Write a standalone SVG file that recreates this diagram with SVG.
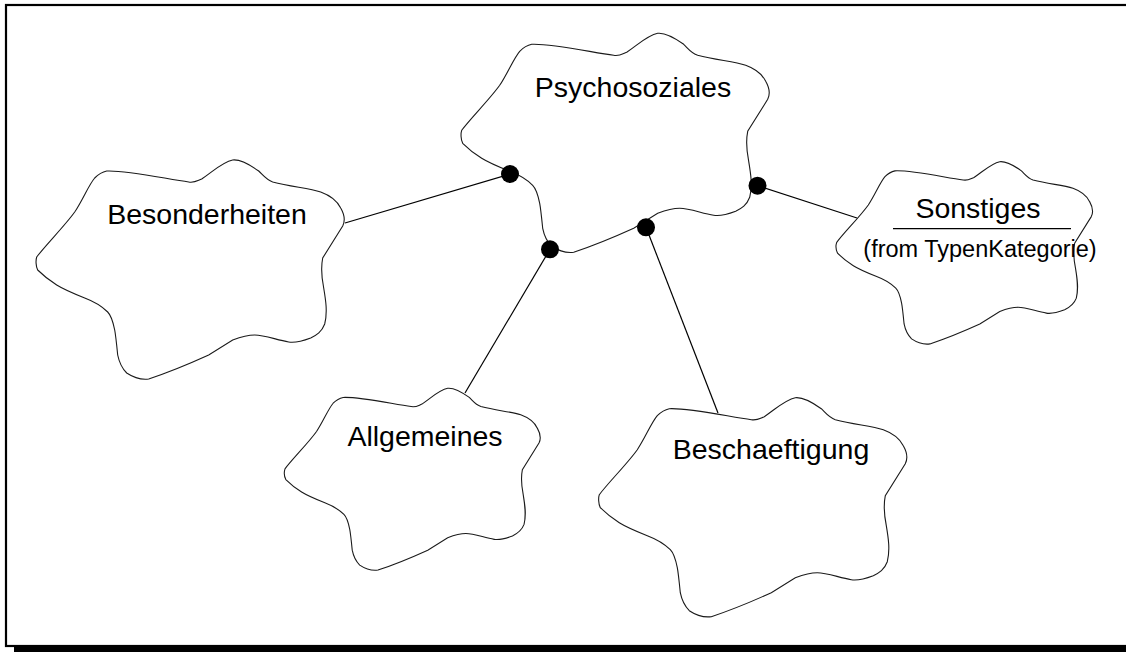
<svg xmlns="http://www.w3.org/2000/svg" xmlns:xlink="http://www.w3.org/1999/xlink" width="1126" height="652" viewBox="0 0 1126 652">
  <style>
    .cloud { fill: #ffffff; stroke: #1a1a1a; }
    .label { font-family: "Liberation Sans", Arial, sans-serif; font-size: 28.5px; fill: #000000; text-anchor: middle; }
    .sub { font-family: "Liberation Sans", Arial, sans-serif; font-size: 23.5px; fill: #000000; text-anchor: middle; }
    .link { stroke: #000000; stroke-width: 1.2; fill: none; }
    .dot { fill: #000000; }
  </style>
  <defs>
    <!-- category cloud outline, 308 x 219 local units -->
    <path id="cloudShape" class="cloud" d="M0,97 C8,86 28,66 38,52 C46,40 52,25 58,18 C62,14 65,12 70,11 C90,10 130,19 152,22 C158,23 160,21 165,19 C178,10 186,2 196,0 C205,-1 215,6 222,11 C228,17 230,20 236,22 C255,27 272,28 284,32 C295,36 301,42 304,48 C308,55 309,60 306,66 L286,98 C284,108 285,118 287,128 C289,140 291,152 288,164 C285,172 280,175 274,178 C266,181 258,183 252,182 C240,180 228,175 218,175 C210,175 204,177 196,180 C188,185 180,190 172,195 C150,205 130,213 112,219 C104,220 96,217 90,213 C84,207 82,200 81,195 C80,185 79,175 78,170 C76,160 74,155 71,152 C65,146 56,141 48,138 C38,134 28,130 20,125 C12,120 5,114 1,110 C-1,106 -1,100 0,97 Z"/>
  </defs>

  <!-- page frame with drop shadow -->
  <rect x="14" y="646" width="1200" height="10" fill="#000000"/>
  <rect x="6" y="5" width="1200" height="641" fill="none" stroke="#000000" stroke-width="2.2"/>

  <g id="node-psychosoziales">
    <use xlink:href="#cloudShape" transform="translate(461.7,33.3)" stroke-width="1.1"/>
    <text class="label" x="633" y="97">Psychosoziales</text>
  </g>

  <g id="node-besonderheiten">
    <use xlink:href="#cloudShape" transform="translate(36.7,160)" stroke-width="1.1"/>
    <text class="label" x="207" y="224">Besonderheiten</text>
  </g>

  <g id="node-sonstiges">
    <use xlink:href="#cloudShape" transform="translate(836.7,161.7) scale(0.832)" stroke-width="1.3"/>
    <text class="label" x="978" y="218">Sonstiges</text>
    <line x1="893" y1="228.7" x2="1071" y2="228.7" stroke="#000000" stroke-width="1.2"/>
    <text class="sub" x="980" y="257">(from TypenKategorie)</text>
  </g>

  <g id="node-allgemeines">
    <use xlink:href="#cloudShape" transform="translate(285,388.3) scale(0.83)" stroke-width="1.3"/>
    <text class="label" x="425" y="446">Allgemeines</text>
  </g>

  <g id="node-beschaeftigung">
    <use xlink:href="#cloudShape" transform="translate(599.3,397.7)" stroke-width="1.1"/>
    <text class="label" x="771" y="459">Beschaeftigung</text>
  </g>

  <g id="connectors">
    <line class="link" x1="345" y1="223" x2="510" y2="174"/>
    <line class="link" x1="465" y1="393" x2="550" y2="249.3"/>
    <line class="link" x1="718" y1="413" x2="646" y2="227.3"/>
    <line class="link" x1="857" y1="218" x2="757.5" y2="185.7"/>
    <circle class="dot" cx="510" cy="174" r="9"/>
    <circle class="dot" cx="550" cy="249.3" r="9"/>
    <circle class="dot" cx="646" cy="227.3" r="9"/>
    <circle class="dot" cx="757.5" cy="185.7" r="9"/>
  </g>
</svg>
